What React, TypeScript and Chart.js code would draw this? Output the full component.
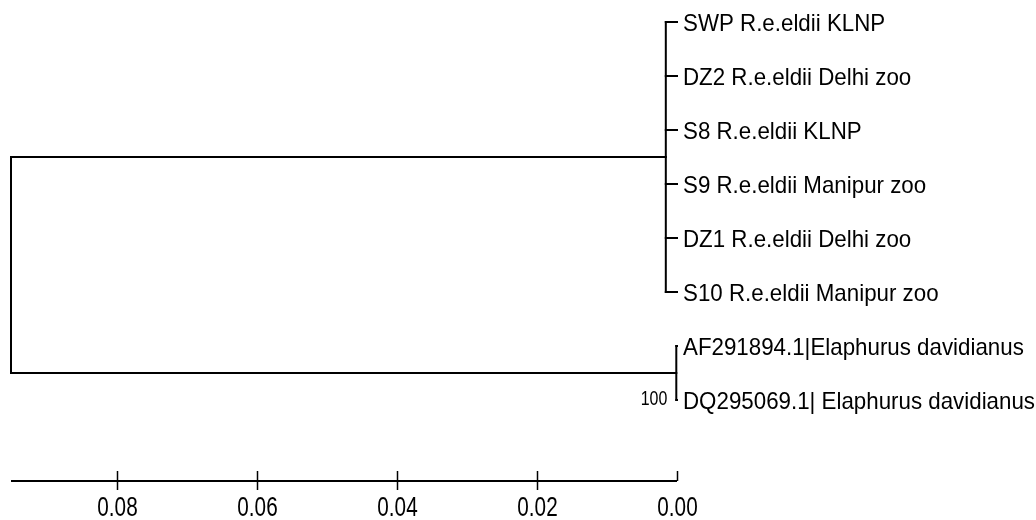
import React, { useEffect, useRef } from "react";
import { Chart, registerables } from "chart.js";
Chart.register(...registerables);

// Leaves (top to bottom)
const leafLabels = [
  "SWP R.e.eldii KLNP",
  "DZ2 R.e.eldii Delhi zoo",
  "S8 R.e.eldii KLNP",
  "S9 R.e.eldii Manipur zoo",
  "DZ1 R.e.eldii Delhi zoo",
  "S10 R.e.eldii Manipur zoo",
  "AF291894.1|Elaphurus davidianus",
  "DQ295069.1| Elaphurus davidianus",
];
const leafHeights = [0, 0, 0, 0, 0, 0, 0, 0];
// Clades: member leaf indices, node heights, bootstrap labels
const cladeLeaves = [
  [0, 1, 2, 3, 4, 5],
  [6, 7],
];
const cladeHeights = [0.0016, 0.0001];
const cladeBootstrap = ["", "100"];
const rootHeight = 0.0952;
// Scale bar ticks
const scaleTicks = [0.08, 0.06, 0.04, 0.02, 0.0];
const scaleTickLabels = ["0.08", "0.06", "0.04", "0.02", "0.00"];

const FONT = '"Liberation Sans", Arial, sans-serif';

function buildSegments() {
  const segs: { x: number; y: number }[][] = [];
  const mids: number[] = [];
  cladeLeaves.forEach((leaves, c) => {
    const h = cladeHeights[c];
    const top = Math.min(...leaves);
    const bot = Math.max(...leaves);
    const mid = (top + bot) / 2;
    mids.push(mid);
    segs.push([
      { x: h, y: top },
      { x: h, y: bot },
    ]);
    leaves.forEach((i) => {
      if (h !== leafHeights[i]) {
        segs.push([
          { x: h, y: i },
          { x: leafHeights[i], y: i },
        ]);
      }
    });
    segs.push([
      { x: rootHeight, y: mid },
      { x: h, y: mid },
    ]);
  });
  segs.push([
    { x: rootHeight, y: Math.min(...mids) },
    { x: rootHeight, y: Math.max(...mids) },
  ]);
  return { segs, mids };
}

function drawText(
  ctx: CanvasRenderingContext2D,
  text: string,
  x: number,
  y: number,
  size: number,
  sx: number,
  align: CanvasTextAlign
) {
  ctx.save();
  ctx.translate(x, y);
  ctx.scale(sx, 1);
  ctx.font = `${size}px ${FONT}`;
  ctx.textAlign = align;
  ctx.textBaseline = "alphabetic";
  ctx.fillStyle = "#000";
  ctx.fillText(text, 0, 0.358 * size);
  ctx.restore();
}

export default function App() {
  const ref = useRef<HTMLCanvasElement | null>(null);
  useEffect(() => {
    document.body.style.margin = "0";
    const canvas = ref.current;
    if (!canvas) return;
    const { segs, mids } = buildSegments();

    const treePlugin = {
      id: "treeText",
      afterDraw(chart: any) {
        const ctx: CanvasRenderingContext2D = chart.ctx;
        const xs = chart.scales.x;
        const ys = chart.scales.y;
        // leaf labels
        leafLabels.forEach((lab, i) => {
          const x = xs.getPixelForValue(leafHeights[i]) + 6;
          const y = ys.getPixelForValue(i);
          drawText(ctx, lab, x, y, 24, 0.93, "left");
        });
        // bootstrap
        cladeBootstrap.forEach((b, c) => {
          if (!b) return;
          const x = xs.getPixelForValue(cladeHeights[c]) - 9;
          const y = ys.getPixelForValue(mids[c]) + 24;
          drawText(ctx, b, x, y, 21, 0.76, "right");
        });
        // scale bar
        const by = chart.chartArea.bottom + 81;
        ctx.save();
        ctx.strokeStyle = "#000";
        ctx.lineWidth = 2;
        ctx.beginPath();
        ctx.moveTo(xs.getPixelForValue(rootHeight), by);
        ctx.lineTo(xs.getPixelForValue(0), by);
        ctx.stroke();
        ctx.lineWidth = 1.5;
        scaleTicks.forEach((t, k) => {
          const x = Math.round(xs.getPixelForValue(t)) + 0.5;
          ctx.beginPath();
          ctx.moveTo(x, by - 10);
          ctx.lineTo(x, t === 0 ? by : by + 9);
          ctx.stroke();
          drawText(ctx, scaleTickLabels[k], x, by + 25, 28, 0.74, "center");
        });
        ctx.restore();
      },
    };

    const chart = new Chart(canvas, {
      type: "scatter",
      data: {
        datasets: segs.map((s) => ({
          data: s,
          showLine: true,
          pointRadius: 0,
          borderColor: "#000",
          borderWidth: 2,
          borderCapStyle: "square" as const,
          clip: false as any,
        })),
      },
      options: {
        animation: false,
        responsive: false,
        events: [],
        layout: { padding: { left: 11, right: 359, top: 22, bottom: 120 } },
        plugins: { legend: { display: false }, tooltip: { enabled: false } },
        scales: {
          x: { type: "linear", min: 0, max: rootHeight, reverse: true, display: false },
          y: { type: "linear", min: 0, max: 7, reverse: true, display: false },
        },
      },
      plugins: [treePlugin],
    });
    return () => chart.destroy();
  }, []);
  return (
    <div style={{ width: 1036, height: 520, background: "#fff" }}>
      <canvas ref={ref} width={1036} height={520} style={{ display: "block" }} />
    </div>
  );
}
